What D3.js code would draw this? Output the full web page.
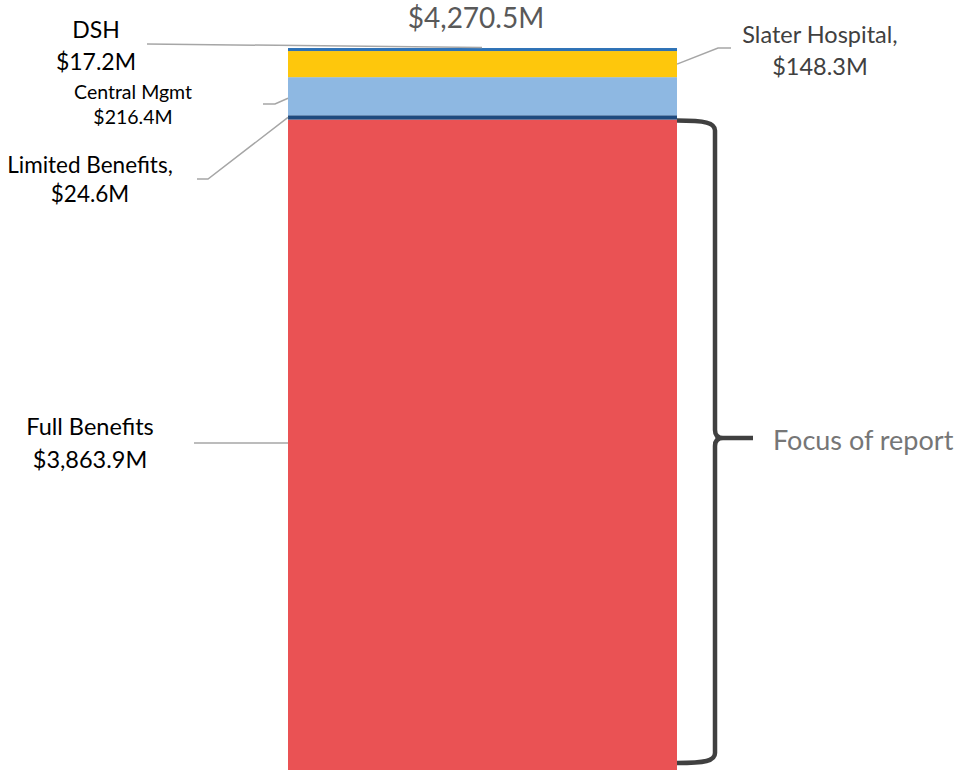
<!DOCTYPE html>
<html>
<head>
<meta charset="utf-8">
<script src="https://cdn.jsdelivr.net/npm/d3@7"></script>
<style>
  html, body { margin: 0; padding: 0; background: #fff; }
  svg { display: block; font-family: Lato, "Open Sans", sans-serif; }
</style>
</head>
<body>
<div id="chart"></div>
<script>
// =====================
// DATA
// =====================
const categories = ["Full Benefits", "Limited Benefits", "Central Mgmt", "Slater Hospital", "DSH"];
const values = [3863.9, 24.6, 216.4, 148.3, 17.2];
const totalValue = 4270.5;
const bracketLabel = "Focus of report";

const colors = ["#EA5254", "#1F4A7E", "#8EB8E2", "#FEC70C", "#2E72B6"];

const fmt = v => "$" + d3.format(",.1f")(v) + "M";

// =====================
// SVG SETUP
// =====================
const width = 956, height = 770;

const svg = d3.select("#chart").append("svg")
  .attr("width", width)
  .attr("height", height);

// scales
const x = d3.scaleBand()
  .domain(["Total"])
  .range([288, 677])
  .padding(0);

const y = d3.scaleLinear()
  .domain([0, totalValue])
  .range([800, 48]);

// stacked segments
const ends = Array.from(d3.cumsum(values));
const stacked = categories.map((c, i) => ({
  name: c,
  value: values[i],
  y0: i === 0 ? 0 : ends[i - 1],
  y1: ends[i],
  color: colors[i]
}));

svg.append("g")
  .selectAll("rect")
  .data(stacked)
  .join("rect")
  .attr("x", x("Total"))
  .attr("width", x.bandwidth())
  .attr("y", d => y(d.y1))
  .attr("height", d => y(d.y0) - y(d.y1))
  .attr("fill", d => d.color);

const mid = d => y((d.y0 + d.y1) / 2);
const seg = name => stacked.find(d => d.name === name);
const left = x("Total"), right = x("Total") + x.bandwidth();

// =====================
// TOTAL LABEL
// =====================
svg.append("text")
  .attr("x", 476)
  .attr("y", 28)
  .attr("text-anchor", "middle")
  .style("font-size", "28px")
  .style("fill", "#595959")
  .text(fmt(totalValue));

// =====================
// LEADER LINES
// =====================
const leader = svg.append("g")
  .attr("fill", "none")
  .attr("stroke", "#a6a6a6")
  .attr("stroke-width", 1.5);

// DSH
leader.append("path")
  .attr("d", `M147,44 L482,${y(seg("DSH").y1) - 0.5}`);
// Central Mgmt
leader.append("path")
  .attr("d", `M263,104 L275,104 L${left},${mid(seg("Central Mgmt")) + 2}`);
// Limited Benefits
leader.append("path")
  .attr("d", `M197,179 L208,179 L${left},${mid(seg("Limited Benefits"))}`);
// Full Benefits
leader.append("path")
  .attr("d", `M194,443 L${left},443`);
// Slater Hospital
leader.append("path")
  .attr("d", `M${right},${mid(seg("Slater Hospital"))} L718,48 L731,48`);

// =====================
// DATA LABELS
// =====================
const labels = [
  { lines: ["DSH", fmt(seg("DSH").value)], x: 96, y: [38, 70], size: 23, fill: "#000" },
  { lines: ["Central Mgmt", fmt(seg("Central Mgmt").value)], x: 133, y: [99, 124], size: 19.5, fill: "#000" },
  { lines: ["Limited Benefits,", fmt(seg("Limited Benefits").value)], x: 90, y: [173, 202], size: 22.5, fill: "#000" },
  { lines: ["Full Benefits", fmt(seg("Full Benefits").value)], x: 90, y: [435, 468], size: 23.5, fill: "#000" },
  { lines: ["Slater Hospital,", fmt(seg("Slater Hospital").value)], x: 820, y: [43, 75], size: 23.5, fill: "#404040" }
];

labels.forEach(l => {
  l.lines.forEach((t, i) => {
    svg.append("text")
      .attr("x", l.x)
      .attr("y", l.y[i])
      .attr("text-anchor", "middle")
      .style("font-size", l.size + "px")
      .style("fill", l.fill)
      .text(t);
  });
});

// =====================
// BRACKET
// =====================
const bTop = y(seg("Full Benefits").y1) + 1;
const bBot = 763;
const bMid = 438;
const bx = 715;

svg.append("path")
  .attr("d", `M${right},${bTop}
    C${bx - 10},${bTop} ${bx},${bTop + 2} ${bx},${bTop + 10}
    L${bx},${bMid - 8}
    Q${bx},${bMid} ${bx + 8},${bMid}
    L753,${bMid}
    M${bx + 8},${bMid}
    Q${bx},${bMid} ${bx},${bMid + 8}
    L${bx},${bBot - 10}
    C${bx},${bBot - 2} ${bx - 10},${bBot} ${right},${bBot}`)
  .attr("fill", "none")
  .attr("stroke", "#404040")
  .attr("stroke-width", 4.5);

svg.append("text")
  .attr("x", 773)
  .attr("y", 450)
  .style("font-size", "27px")
  .style("fill", "#767676")
  .text(bracketLabel);
</script>
</body>
</html>
